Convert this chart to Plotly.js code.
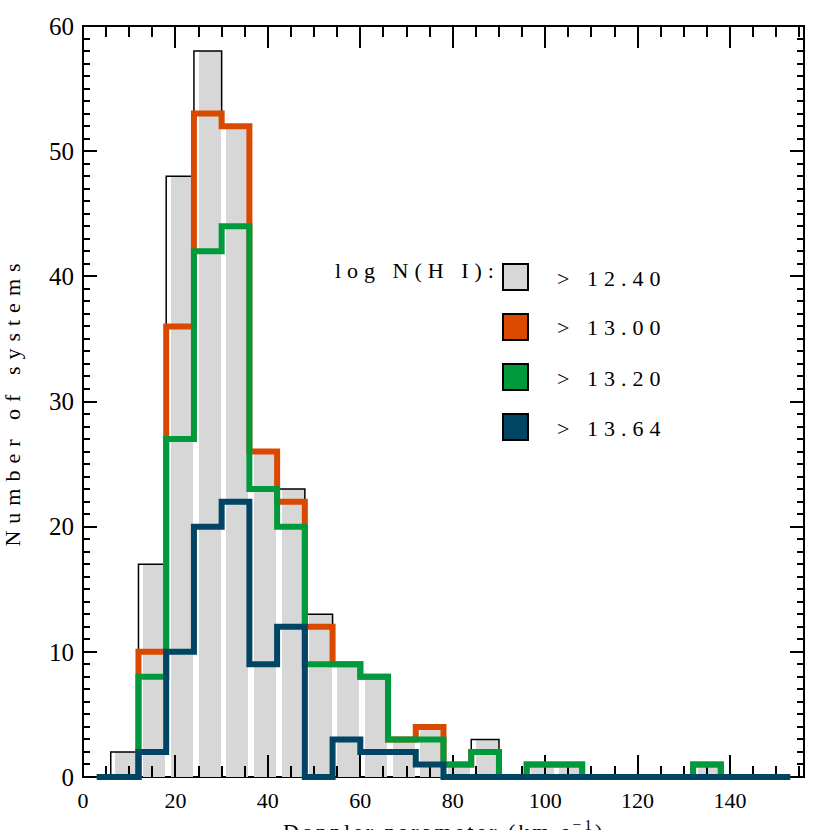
<!DOCTYPE html>
<html>
<head>
<meta charset="utf-8">
<script src="https://cdn.plot.ly/plotly-3.0.1.min.js"></script>
<style>
  html, body { margin: 0; padding: 0; background: #fff; }
  #chart { width: 830px; height: 830px; }
  .annotation-text { letter-spacing: 6px; }
  .annotation[data-index="0"] .annotation-text { letter-spacing: 3px; }
  .ytitle { letter-spacing: 7px; }
</style>
</head>
<body>
<div id="chart"></div>
<script>
// Bin centres of 6 km/s wide bins (0-6, 6-12, ... 150-156)
const binCenters = [3, 9, 15, 21, 27, 33, 39, 45, 51, 57, 63, 69, 75, 81, 87, 93, 99, 105, 111, 117, 123, 129, 135, 141, 147, 153];
// Counts per bin for each log N(H I) threshold
const countsGt1240 = [0, 2, 17, 48, 58, 52, 26, 23, 13, 9, 8, 3, 4, 1, 3, 0, 1, 1, 0, 0, 0, 0, 1, 0, 0, 0];
const countsGt1300 = [0, 0, 10, 36, 53, 52, 26, 22, 12, 9, 8, 3, 4, 1, 2, 0, 1, 1, 0, 0, 0, 0, 1, 0, 0, 0];
const countsGt1320 = [0, 0, 8, 27, 42, 44, 23, 20, 9, 9, 8, 3, 3, 1, 2, 0, 1, 1, 0, 0, 0, 0, 1, 0, 0, 0];
const countsGt1364 = [0, 0, 2, 10, 20, 22, 9, 12, 0, 3, 2, 2, 1, 0, 0, 0, 0, 0, 0, 0, 0, 0, 0, 0, 0, 0];

const legendTitle = 'log N(H I):';
const legendLabels = ['> 12.40', '> 13.00', '> 13.20', '> 13.64'];
const seriesColors = ['#d7d7d7', '#d94a00', '#009a3c', '#004664'];

const xTitle = 'Doppler parameter (km s<sup>−1</sup>)';
const yTitle = 'Number of systems';

const FONT = 'Liberation Serif';

// Geometry: main plot box (pixels) and an enlarged overlay box so thick
// step lines at y = 0 are not clipped by the axis frame.
const PL = 83, PR = 804, PT = 26, PB = 777;   // main frame
const OB = 787;                               // overlay box bottom
const H = 830;
const mainDomainY0 = (OB - PB) / (OB - PT);
const yMax = 60;
const overlayYMin = -yMax * (OB - PB) / (PB - PT);

const lineTrace = (ys, color, width) => ({
  type: 'scatter', mode: 'lines', x: binCenters, y: ys,
  xaxis: 'x2', yaxis: 'y2',
  line: { shape: 'hvh', color: color, width: width },
  hoverinfo: 'skip'
});

const traces = [
  {
    type: 'bar', x: binCenters, y: countsGt1240,
    width: 4.8, offset: -2,
    marker: { color: seriesColors[0], line: { width: 0 } },
    hoverinfo: 'skip'
  },
  lineTrace(countsGt1240, '#000', 1.5),
  lineTrace(countsGt1300, seriesColors[1], 6),
  lineTrace(countsGt1320, seriesColors[2], 6),
  lineTrace(countsGt1364, seriesColors[3], 6)
];

// pixel -> paper coordinates (paper spans the overlay box)
const px = v => (v - PL) / (PR - PL);
const py = v => (OB - v) / (OB - PT);

const shapes = [
  { type: 'rect', xref: 'x domain', yref: 'y domain', x0: 0, x1: 1, y0: 0, y1: 1,
    line: { color: '#000', width: 2 }, layer: 'below' }
];
const annotations = [
  { xref: 'paper', yref: 'paper', x: px(444), y: py(830), xanchor: 'center', yanchor: 'middle',
    text: xTitle, showarrow: false, font: { family: FONT, size: 22, color: '#000' } },
  { xref: 'paper', yref: 'paper', x: px(502), y: py(270), xanchor: 'right', yanchor: 'middle',
    text: legendTitle, showarrow: false, font: { family: FONT, size: 22, color: '#000' } }
];
legendLabels.forEach((lab, i) => {
  const top = 264 + i * 50;
  shapes.push({ type: 'rect', xref: 'paper', yref: 'paper',
    x0: px(503), x1: px(528), y0: py(top + 26), y1: py(top),
    fillcolor: seriesColors[i], line: { color: '#000', width: 2 }, layer: 'above' });
  annotations.push({ xref: 'paper', yref: 'paper', x: px(555), y: py(top + 14),
    xanchor: 'left', yanchor: 'middle', text: lab, showarrow: false,
    font: { family: FONT, size: 22, color: '#000' } });
});

const axisCommon = {
  showgrid: false, zeroline: false, showline: false, mirror: 'ticks',
  ticks: 'inside', tickwidth: 2, tickcolor: '#000', layer: 'above traces'
};

const layout = {
  width: 830, height: H,
  margin: { l: PL, r: 830 - PR, t: PT, b: H - OB, pad: 0 },
  paper_bgcolor: '#fff', plot_bgcolor: 'rgba(0,0,0,0)',
  showlegend: false,
  font: { family: FONT, color: '#000' },
  bargap: 0,
  xaxis: Object.assign({}, axisCommon, {
    range: [0, 156], tick0: 0, dtick: 20, ticklen: 22,
    minor: { ticks: 'inside', dtick: 5, ticklen: 11, tickwidth: 2, tickcolor: '#000', showgrid: false },
    tickfont: { family: FONT, size: 22 }, ticklabelstandoff: 8
  }),
  yaxis: Object.assign({}, axisCommon, {
    domain: [mainDomainY0, 1],
    range: [0, yMax], tick0: 0, dtick: 10, ticklen: 14,
    minor: { ticks: 'inside', dtick: 1, ticklen: 7, tickwidth: 2, tickcolor: '#000', showgrid: false },
    tickfont: { family: FONT, size: 25 }, ticklabelstandoff: 8,
    title: { text: yTitle, font: { family: FONT, size: 22 }, standoff: 24 }
  }),
  xaxis2: { anchor: 'y2', range: [0, 156], visible: false, fixedrange: true },
  yaxis2: { anchor: 'x2', domain: [0, 1], range: [overlayYMin, yMax], visible: false, fixedrange: true },
  shapes: shapes,
  annotations: annotations
};

Plotly.newPlot('chart', traces, layout, { staticPlot: true, displayModeBar: false });
</script>
</body>
</html>
